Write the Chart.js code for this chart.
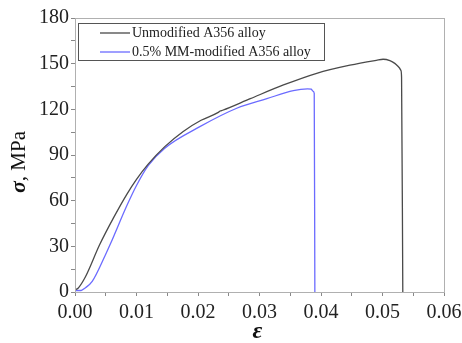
<!DOCTYPE html>
<html>
<head>
<meta charset="utf-8">
<script src="https://cdn.jsdelivr.net/npm/chart.js@4.4.0/dist/chart.umd.min.js"></script>
<style>
  html, body { margin: 0; padding: 0; background: #fff; }
  #wrap { width: 462px; height: 343px; }
</style>
</head>
<body>
<div id="wrap"><canvas id="chart" width="462" height="343"></canvas></div>
<script>
// strain / stress
const strainUnmod = [0, 0.0005, 0.0017, 0.0040, 0.0063, 0.0084, 0.0100, 0.0119, 0.0146, 0.0176, 0.0205, 0.0233, 0.0236, 0.0240, 0.0285, 0.0339, 0.0393, 0.0447, 0.0490, 0.0501, 0.0512, 0.0520, 0.0527, 0.0530, 0.0531, 0.0533];
const stressUnmod = [1.5, 2.5, 10, 31, 49, 64, 74, 84, 95.5, 105.5, 112.8, 118, 118.9, 119.4, 127, 136, 143.7, 149, 152.2, 152.9, 152, 150.2, 147.5, 145.5, 141, 0];

const strainMM = [0, 0.0010, 0.0016, 0.0028, 0.0049, 0.0058, 0.0084, 0.0100, 0.0119, 0.0146, 0.0203, 0.0263, 0.0312, 0.0355, 0.0378, 0.0384, 0.0387, 0.0389, 0.0390];
const stressMM = [1, 1, 2.5, 7, 24, 32, 56.5, 70, 83, 94.5, 108.6, 120.7, 127, 132.3, 133.4, 133.2, 132, 130.5, 0];

const seriesNames = ['Unmodified A356 alloy', '0.5% MM-modified A356 alloy'];
const seriesColors = ['#4a4a4a', '#6b6bff'];

const xTicks = [0, 0.01, 0.02, 0.03, 0.04, 0.05, 0.06];
const yTicks = [0, 30, 60, 90, 120, 150, 180];

const toPoints = (xs, ys) => xs.map((x, i) => ({ x: x, y: ys[i] }));

const serif = '"Liberation Serif", "DejaVu Serif", serif';

// frame, legend box, axis titles
const decorations = {
  id: 'decorations',
  afterDraw(chart) {
    const ctx = chart.ctx;
    const a = chart.chartArea;
    ctx.save();
    ctx.strokeStyle = '#b0b0b0';
    ctx.lineWidth = 1;
    ctx.strokeRect(a.left + 0.5, a.top + 0.5, a.right - a.left, a.bottom - a.top);

    // legend
    const lx = a.left + 3, ly = a.top + 5, lw = 246, lh = 37;
    ctx.strokeStyle = '#555';
    ctx.strokeRect(lx + 0.5, ly + 0.5, lw, lh);
    ctx.font = '14px ' + serif;
    ctx.textBaseline = 'middle';
    ctx.fillStyle = '#222';
    seriesNames.forEach((name, i) => {
      const y = ly + 10 + i * 19;
      ctx.strokeStyle = seriesColors[i];
      ctx.lineWidth = 1.3;
      ctx.beginPath();
      ctx.moveTo(lx + 22, y);
      ctx.lineTo(lx + 52, y);
      ctx.stroke();
      ctx.fillText(name, lx + 54, y);
    });

    // x title
    ctx.font = 'italic bold 24px ' + serif;
    ctx.textAlign = 'center';
    ctx.fillStyle = '#111';
    ctx.fillText('\u03b5', (a.left + a.right) / 2 - 2, 332);

    // y title, mixed styles
    ctx.translate(19, 162);
    ctx.rotate(-Math.PI / 2);
    ctx.textAlign = 'left';
    const f1 = 'italic bold 22px ' + serif;
    const f2 = '21px ' + serif;
    ctx.font = f1;
    const w1 = ctx.measureText('\u03c3').width;
    ctx.font = f2;
    const w2 = ctx.measureText(', MPa').width;
    const start = -(w1 + w2) / 2;
    ctx.font = f1;
    ctx.fillText('\u03c3', start, 0);
    ctx.font = f2;
    ctx.fillText(', MPa', start + w1, 0);
    ctx.restore();
  }
};

new Chart(document.getElementById('chart'), {
  type: 'scatter',
  data: {
    datasets: [
      {
        label: seriesNames[0],
        data: toPoints(strainUnmod, stressUnmod),
        showLine: true,
        borderColor: seriesColors[0],
        borderWidth: 1.3,
        pointRadius: 0,
        cubicInterpolationMode: 'monotone'
      },
      {
        label: seriesNames[1],
        data: toPoints(strainMM, stressMM),
        showLine: true,
        borderColor: seriesColors[1],
        borderWidth: 1.3,
        pointRadius: 0,
        cubicInterpolationMode: 'monotone'
      }
    ]
  },
  options: {
    responsive: false,
    animation: false,
    layout: { padding: { top: 18, right: 18, left: 0, bottom: 0 } },
    plugins: {
      legend: { display: false },
      tooltip: { enabled: false }
    },
    scales: {
      x: {
        type: 'linear',
        min: xTicks[0],
        max: xTicks[xTicks.length - 1],
        // the last label runs off the canvas edge in the original
        afterFit: s => { s.height = 51; s.paddingLeft = 0; s.paddingRight = 0; },
        afterBuildTicks: s => {
          const t = [];
          for (let i = 0; i <= 12; i++) t.push({ value: i * 0.005 });
          s.ticks = t;
        },
        grid: { drawOnChartArea: false, tickLength: 4, color: '#888' },
        border: { display: false },
        ticks: {
          padding: 5,
          color: '#222',
          font: { family: serif, size: 20 },
          maxRotation: 0,
          autoSkip: false,
          callback: v => {
            const k = Math.round(v * 1000);
            return k % 10 === 0 ? xTicks[k / 10].toFixed(2) : '';
          }
        }
      },
      y: {
        min: yTicks[0],
        max: yTicks[yTicks.length - 1],
        afterFit: s => { s.width = 75; },
        afterBuildTicks: s => {
          const t = [];
          for (let v = 0; v <= 180; v += 15) t.push({ value: v });
          s.ticks = t;
        },
        grid: { drawOnChartArea: false, tickLength: 4, color: '#888' },
        border: { display: false },
        ticks: {
          padding: 2,
          color: '#222',
          font: { family: serif, size: 20 },
          autoSkip: false,
          callback: v => (yTicks.includes(v) ? String(v) : '')
        }
      }
    }
  },
  plugins: [decorations]
});
</script>
</body>
</html>
